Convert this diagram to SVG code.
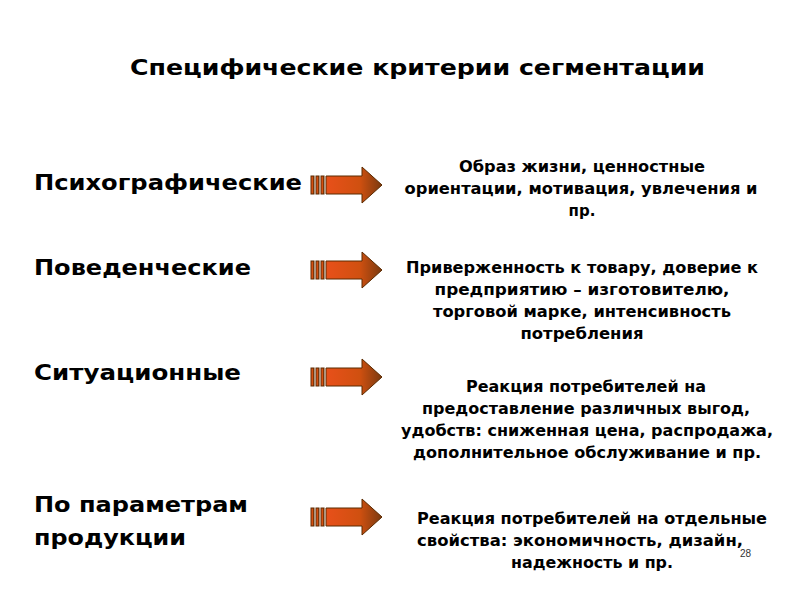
<svg xmlns="http://www.w3.org/2000/svg" width="794" height="595" viewBox="0 0 794 595">
<style>
.t{font-family:"DejaVu Sans",sans-serif;font-weight:bold;fill:#000}
.h{font-size:22px}
.l{font-size:21px}
.r{font-size:15px;text-anchor:middle}
.s{fill:url(#g);stroke:#5a2a00;stroke-width:1}
</style>
<defs>
<linearGradient id="g" x1="0" y1="0" x2="1" y2="0">
<stop offset="0" stop-color="#e8501a"/><stop offset="0.6" stop-color="#d05010"/><stop offset="1" stop-color="#7a3a10"/>
</linearGradient>
<g id="arr">
<rect class="s" x="311" y="-9" width="3" height="18"/>
<rect class="s" x="316" y="-9" width="3" height="18"/>
<rect class="s" x="321" y="-9" width="3" height="18"/>
<path class="s" d="M326,-9 H362 V-18 L382,0 L362,18 V9 H326 Z"/>
</g>
</defs>
<text class="t h" x="130" y="75" textLength="575" lengthAdjust="spacingAndGlyphs">Специфические критерии сегментации</text>
<g id="n1"><text class="t l" x="34" y="190" textLength="268" lengthAdjust="spacingAndGlyphs">Психографические</text><use href="#arr" y="185"/>
<text class="t r"><tspan x="582" y="172" textLength="246" lengthAdjust="spacingAndGlyphs">Образ жизни, ценностные</tspan><tspan x="581" y="194" textLength="353" lengthAdjust="spacingAndGlyphs">ориентации, мотивация, увлечения и</tspan><tspan x="582" y="216">пр.</tspan></text></g>
<g id="n2"><text class="t l" x="34" y="275" textLength="217" lengthAdjust="spacingAndGlyphs">Поведенческие</text><use href="#arr" y="270"/>
<text class="t r"><tspan x="582" y="273" textLength="352" lengthAdjust="spacingAndGlyphs">Приверженность к товару, доверие к</tspan><tspan x="582" y="295" textLength="295" lengthAdjust="spacingAndGlyphs">предприятию – изготовителю,</tspan><tspan x="582" y="317" textLength="298" lengthAdjust="spacingAndGlyphs">торговой марке, интенсивность</tspan><tspan x="582" y="339" textLength="123" lengthAdjust="spacingAndGlyphs">потребления</tspan></text></g>
<g id="n3"><text class="t l" x="34" y="380" textLength="207" lengthAdjust="spacingAndGlyphs">Ситуационные</text><use href="#arr" y="377"/>
<text class="t r"><tspan x="586" y="392" textLength="240" lengthAdjust="spacingAndGlyphs">Реакция потребителей на</tspan><tspan x="586" y="414" textLength="328" lengthAdjust="spacingAndGlyphs">предоставление различных выгод,</tspan><tspan x="587" y="436" textLength="372" lengthAdjust="spacingAndGlyphs">удобств: сниженная цена, распродажа,</tspan><tspan x="587" y="458" textLength="348" lengthAdjust="spacingAndGlyphs">дополнительное обслуживание и пр.</tspan></text></g>
<g id="n4"><text class="t l" x="34" y="512" textLength="214" lengthAdjust="spacingAndGlyphs">По параметрам</text><text class="t l" x="34" y="545" textLength="152" lengthAdjust="spacingAndGlyphs">продукции</text><use href="#arr" y="517"/>
<text class="t r"><tspan x="592" y="524" textLength="350" lengthAdjust="spacingAndGlyphs">Реакция потребителей на отдельные</tspan><tspan x="580" y="546" textLength="326" lengthAdjust="spacingAndGlyphs">свойства: экономичность, дизайн,</tspan><tspan x="592" y="568" textLength="162" lengthAdjust="spacingAndGlyphs">надежность и пр.</tspan></text></g>
<text x="740" y="557" style="font-family:'Liberation Sans',sans-serif;font-size:10px;fill:#333">28</text>
</svg>
